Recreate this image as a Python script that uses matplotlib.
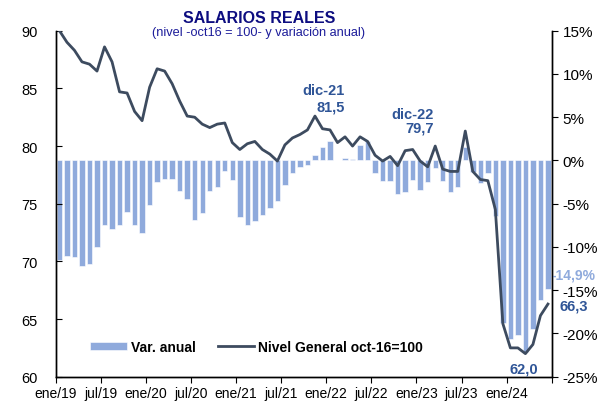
import matplotlib
matplotlib.use('Agg')
import matplotlib.pyplot as plt
import numpy as np

plt.rcParams['font.family'] = ['Liberation Sans', 'DejaVu Sans']

# Nivel General (oct16=100), monthly ene/19 .. jun/24
nivel = [90.0, 89.0, 88.3, 87.3, 87.1, 86.5, 88.6, 87.3, 84.7, 84.6, 83.0, 82.2,
         85.1, 86.7, 86.5, 85.4, 83.9, 82.6, 82.5, 81.9, 81.6, 81.9, 82.0, 80.3,
         79.7, 80.2, 80.4, 79.7, 79.3, 78.7, 80.1, 80.7, 81.0, 81.4, 82.6, 81.5,
         81.4, 80.3, 80.8, 80.0, 80.8, 80.4, 79.2, 78.7, 79.1, 78.3, 79.6, 79.7,
         78.7, 78.2, 80.0, 78.0, 77.8, 77.8, 81.3, 77.8, 77.1, 77.0, 74.5, 64.6,
         62.5, 62.5, 62.0, 62.8, 65.3, 66.3]

# Variacion anual (%)
var_anual = [-11.5, -11.0, -11.2, -12.2, -12.0, -10.0, -7.5, -7.9, -7.5, -6.0, -7.5, -8.4,
             -5.2, -2.5, -2.1, -2.2, -3.5, -4.4, -6.9, -6.1, -3.5, -3.1, -1.2, -2.3,
             -6.5, -7.5, -7.0, -6.3, -5.5, -4.7, -2.8, -1.5, -0.7, -0.5, 0.6, 1.6,
             2.2, 0.05, 0.3, 0.2, 1.8, 2.3, -1.4, -2.4, -2.4, -3.9, -3.6, -2.3,
             -3.4, -2.5, -0.9, -2.4, -3.7, -3.1, 1.6, -1.3, -2.6, -1.5, -6.4, -18.8,
             -20.6, -20.2, -22.2, -19.5, -16.1, -14.9]

tick_labels = ['ene/19', 'jul/19', 'ene/20', 'jul/20', 'ene/21', 'jul/21',
               'ene/22', 'jul/22', 'ene/23', 'jul/23', 'ene/24', '']

line_color = '#3D4B5F'
bar_color = '#8FAADC'
label_color = '#2F5597'
title_color = '#0D0D80'

x = np.arange(len(nivel))

fig = plt.figure(figsize=(5.98, 4.02), dpi=100)
ax1 = fig.add_axes([0.0931, 0.0604, 0.8295, 0.8607])
ax2 = ax1.twinx()

# bars on right axis
bars = ax2.bar(x, var_anual, width=0.72, color=bar_color, edgecolor='white',
               linewidth=0.4, label='Var. anual')
ax2.set_ylim(-25, 15)
ax2.set_yticks(np.arange(-25, 16, 5))
ax2.set_yticklabels([f'{v}%' for v in range(-25, 16, 5)])

# line on left axis, drawn above the bars
ax1.set_zorder(ax2.get_zorder() + 1)
ax1.patch.set_visible(False)
line, = ax1.plot(x, nivel, color=line_color, lw=2.0, label='Nivel General oct-16=100')
ax1.set_ylim(60, 90)
ax1.set_yticks(np.arange(60, 91, 5))
ax1.set_xlim(-0.5, 65.5)
ax1.set_xticks(np.arange(-0.5, 66, 6))
ax1.set_xticklabels(tick_labels)

for ax in (ax1, ax2):
    ax.spines['top'].set_visible(False)
    ax.spines['left'].set_linewidth(1.0)
    ax.spines['right'].set_linewidth(1.0)
    ax.spines['bottom'].set_linewidth(1.0)

ax1.tick_params(axis='y', direction='in', length=4, labelsize=10.5, pad=13)
ax1.tick_params(axis='x', direction='out', length=4, labelsize=10, pad=3)
ax2.tick_params(axis='y', direction='out', length=4, labelsize=11, pad=4)

# titles
fig.text(259 / 598, 1 - 18.5 / 402, 'SALARIOS REALES', ha='center', va='center',
         fontsize=11.5, fontweight='bold', color=title_color)
fig.text(259 / 598, 1 - 33 / 402, '(nivel -oct16 = 100- y variación anual)',
         ha='center', va='center', fontsize=9.2, color='#1C1C9A')

# annotations
kw = dict(textcoords='offset points', ha='center', va='center',
          fontsize=10.5, fontweight='bold', color=label_color, annotation_clip=False)
ax1.annotate('dic-21', xy=(35, nivel[35]), xytext=(1, 27.6), **kw)
ax1.annotate('81,5', xy=(35, nivel[35]), xytext=(6, 16.2), **kw)
ax1.annotate('dic-22', xy=(47, nivel[47]), xytext=(0, 25.7), **kw)
ax1.annotate('79,7', xy=(47, nivel[47]), xytext=(5, 15.6), **kw)
ax1.annotate('62,0', xy=(62, nivel[62]), xytext=(-1.3, -10.8), **kw)
ax1.annotate('66,3', xy=(65, nivel[65]), xytext=(18.4, -0.9), **kw)
kw2 = dict(kw)
kw2['color'] = bar_color
kw2['fontsize'] = 10
kw2['ha'] = 'right'
ax2.annotate('-14,9%', xy=(65, var_anual[65]), xytext=(34.5, 10.8), **kw2)

# legend
ax1.legend([bars, line], ['Var. anual', 'Nivel General oct-16=100'],
           loc='lower left', bbox_to_anchor=(0.045, 0.03), ncol=2, frameon=False,
           prop={'weight': 'bold', 'size': 10}, handlelength=2.6, handleheight=0.55,
           columnspacing=1.6, handletextpad=0.3)

fig.savefig('out.png', dpi=100)
